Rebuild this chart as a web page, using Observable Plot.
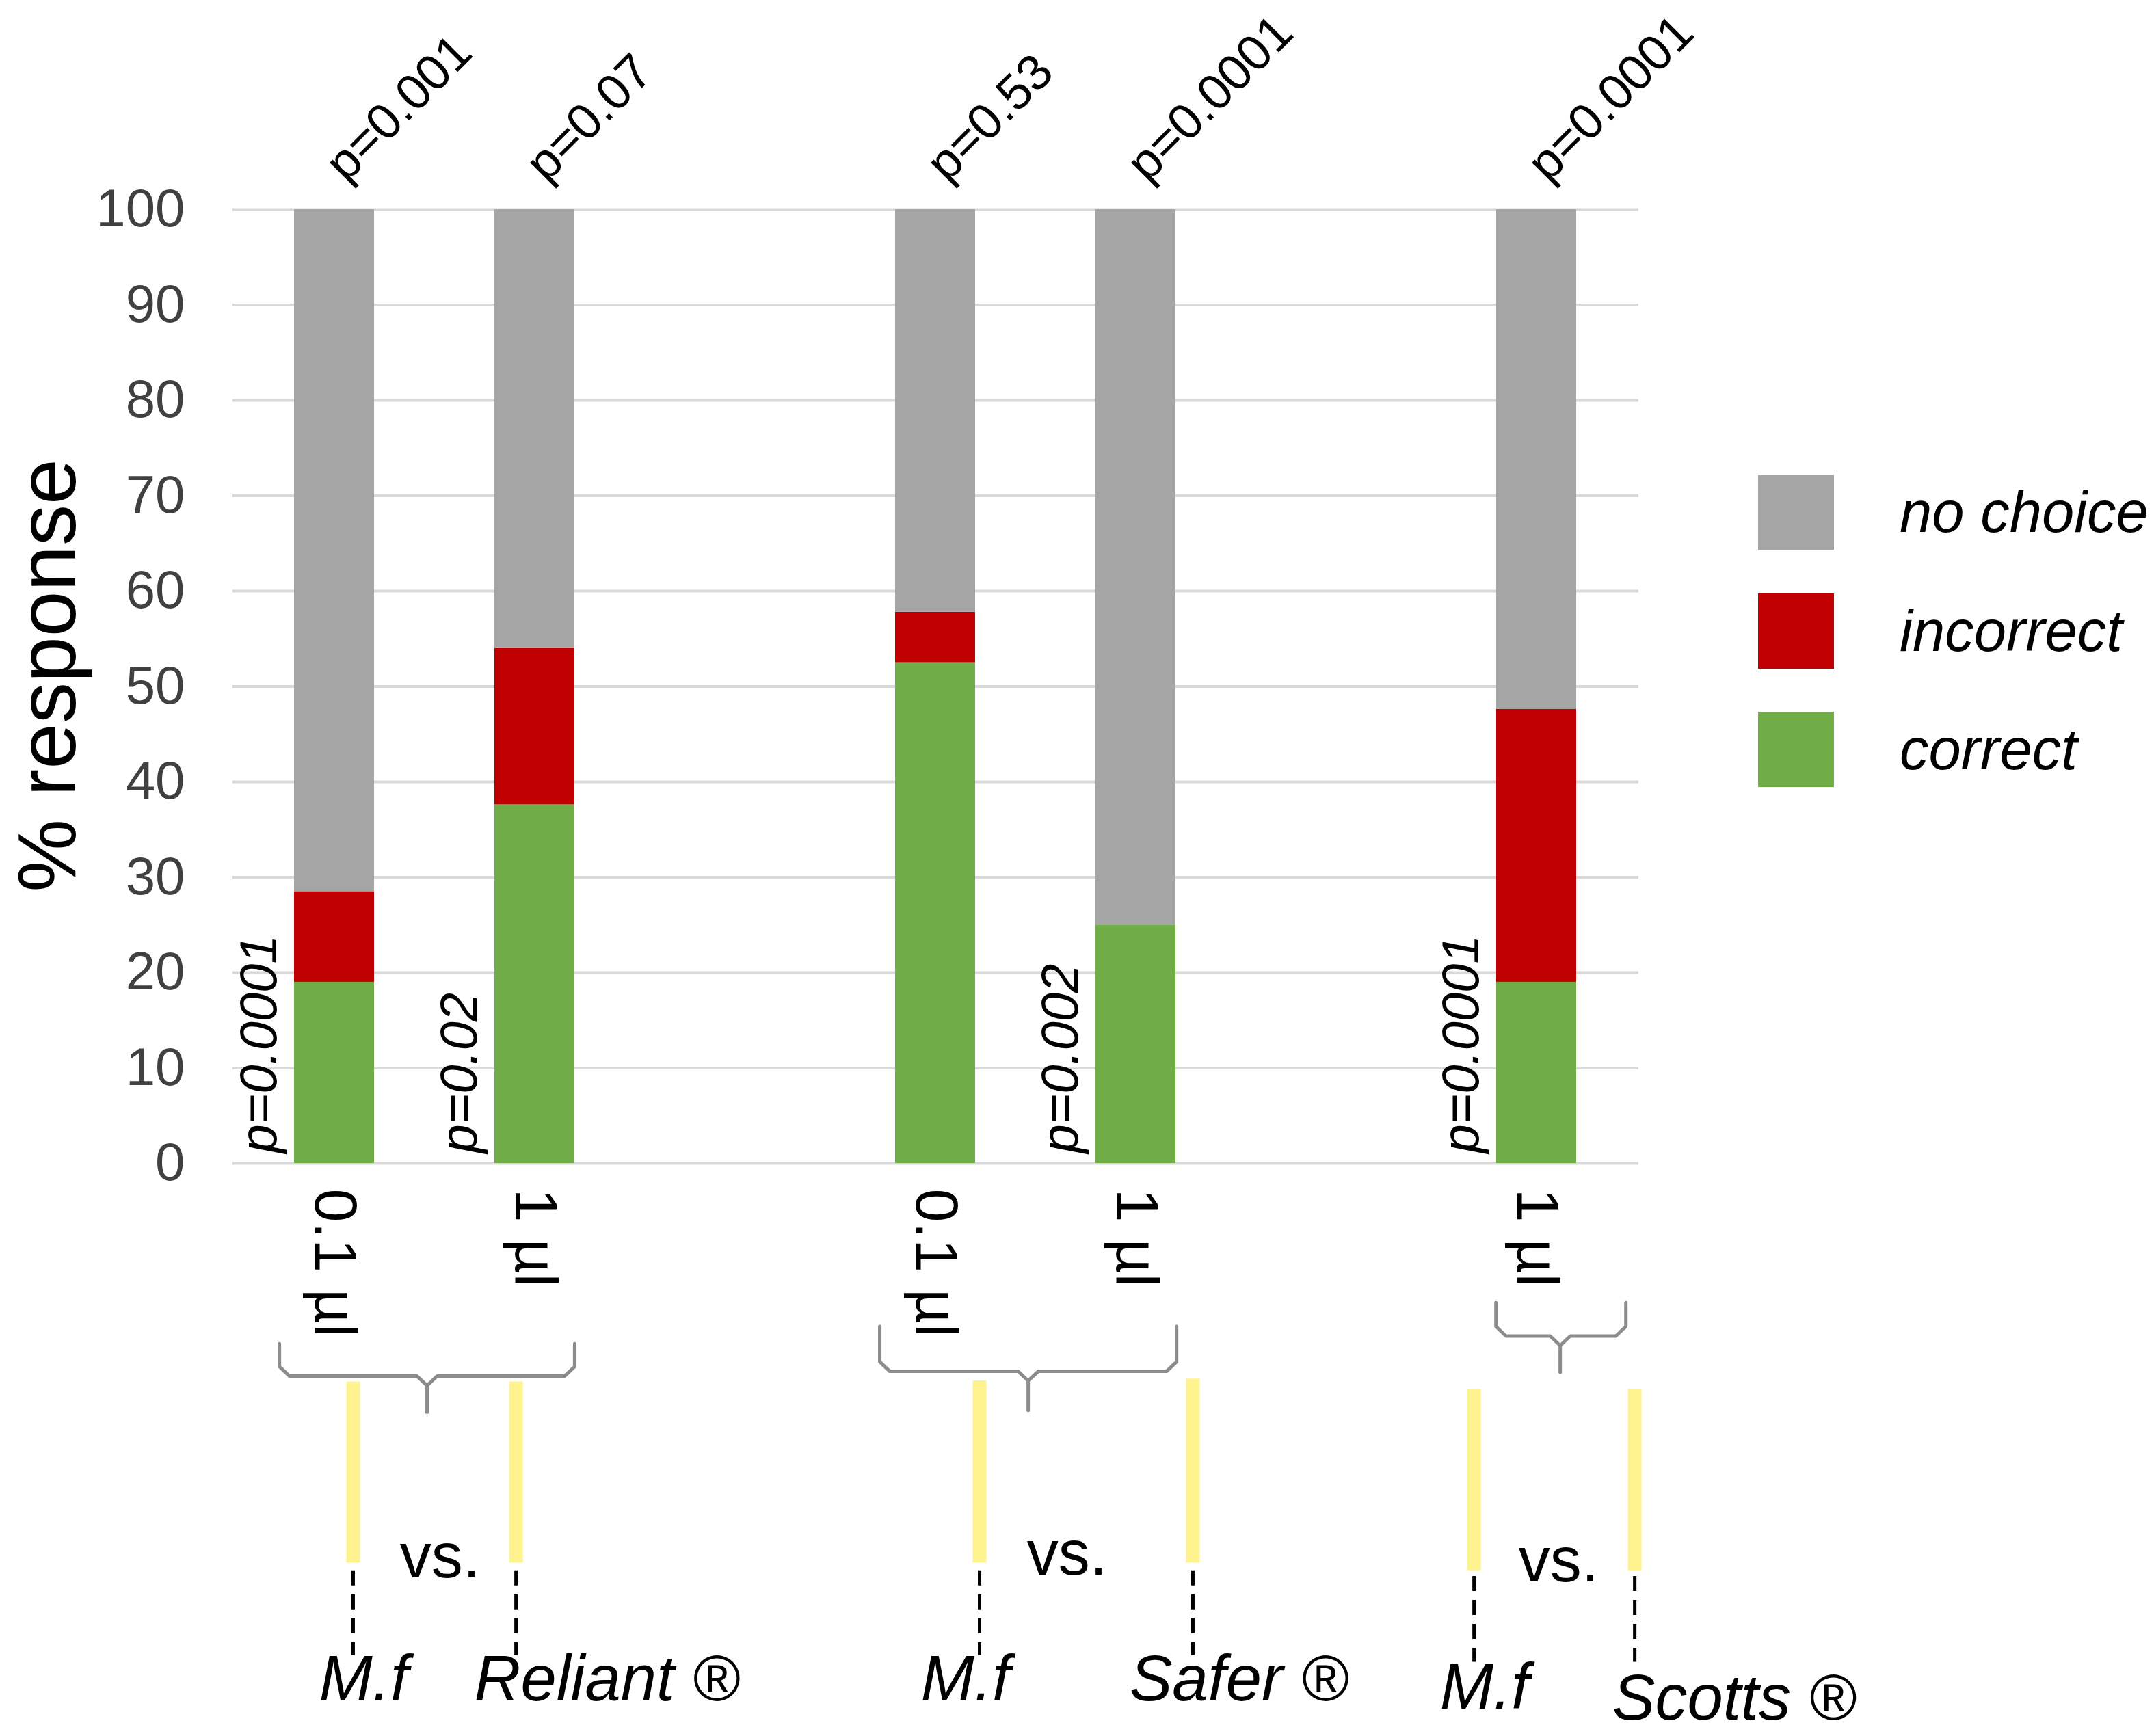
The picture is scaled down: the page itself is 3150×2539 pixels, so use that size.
<!DOCTYPE html>
<html>
<head>
<meta charset="utf-8">
<script src="https://cdn.jsdelivr.net/npm/d3@7"></script>
<script src="https://cdn.jsdelivr.net/npm/@observablehq/plot@0.6"></script>
<style>
  html, body { margin: 0; padding: 0; background: #ffffff; }
  #wrap { position: relative; width: 3150px; height: 2539px; overflow: hidden; background: #ffffff;
          font-family: "Liberation Sans", Arial, sans-serif; }
  #wrap > svg { position: absolute; left: 0; top: 0; }
  .lg-item { position: absolute; display: flex; align-items: center; height: 110px; }
  .lg-swatch { width: 111px; height: 110px; flex: none; }
  .lg-label { margin-left: 96px; font-size: 85px; font-style: italic; color: #000; line-height: 110px; white-space: nowrap; }
</style>
</head>
<body>
<div id="wrap"></div>
<script>
// ---------------- data ----------------
const slots = ["Reliant 0.1 µl", "Reliant 1 µl", "gap A", "Safer 0.1 µl", "Safer 1 µl", "gap B", "Scotts 1 µl"];
const slotLabels = ["0.1 µl", "1 µl", "", "0.1 µl", "1 µl", "", "1 µl"];
const barSlots = ["Reliant 0.1 µl", "Reliant 1 µl", "Safer 0.1 µl", "Safer 1 µl", "Scotts 1 µl"];
const correct   = [19.0, 37.6, 52.5, 25.0, 19.0];
const incorrect = [9.5, 16.4, 5.3, 0, 28.6];
const noChoice  = [71.5, 46.0, 42.2, 75.0, 52.4];
const responses = ["correct", "incorrect", "no choice"];
const responseColors = ["#70AD47", "#C00000", "#A5A5A5"];
const legendOrder = ["no choice", "incorrect", "correct"];
const pTop = ["p=0.001", "p=0.07", "p=0.53", "p=0.0001", "p=0.0001"];
const pCorrect = ["p=0.0001", "p=0.02", "", "p=0.002", "p=0.0001"];
const yTicks = [0, 10, 20, 30, 40, 50, 60, 70, 80, 90, 100];
const yTitle = "% response";
const products = ["M.f", "Reliant ®", "M.f", "Safer ®", "M.f", "Scotts ®"];
const vsLabel = "vs.";

// ------------- layout of the hand-drawn comparison diagram (slot units / % units) -------------
const bracketLayout = [
  {left: 0.232, right: 1.702, mid: 0.967, top: -18.9, bar: -22.3, tip: -26.1},
  {left: 3.221, right: 4.699, mid: 3.960, top: -17.1, bar: -21.8, tip: -25.9},
  {left: 6.289, right: 6.936, mid: 6.609, top: -14.6, bar: -18.1, tip: -21.9}
];
const markerX      = [0.599, 1.410, 3.718, 4.780, 6.180, 6.980];
const markerTop    = [-22.9, -22.9, -22.8, -22.6, -23.7, -23.7];
const markerBottom = [-41.9, -41.9, -41.9, -41.9, -42.7, -42.7];
const dashTop      = [-42.7, -42.7, -42.7, -42.7, -43.3, -43.3];
const dashBottom   = [-51.6, -51.6, -51.6, -51.6, -52.3, -52.3];
const nameX        = [0.429, 1.202, 3.425, 4.464, 6.010, 6.868];
const nameY        = [-56.3, -56.3, -56.3, -56.3, -57.2, -58.3];
const vsX          = [1.032, 4.154, 6.602];
const vsY          = [-43.4, -43.1, -43.8];

// ---------------- build tables ----------------
const rows = [];
barSlots.forEach((s, i) => {
  rows.push({slot: s, response: "correct", value: correct[i]});
  rows.push({slot: s, response: "incorrect", value: incorrect[i]});
  rows.push({slot: s, response: "no choice", value: noChoice[i]});
});
const pRows = barSlots.map((s, i) => ({slot: s, top: pTop[i], low: pCorrect[i]}));

const bracketPts = [];
bracketLayout.forEach((b, g) => {
  const cx = 0.05, cy = 1.0;
  [[b.left, b.top], [b.left, b.bar + cy], [b.left + cx, b.bar], [b.mid - cx, b.bar], [b.mid, b.bar - cy],
   [b.mid, b.tip], [b.mid, b.bar - cy], [b.mid + cx, b.bar], [b.right - cx, b.bar], [b.right, b.bar + cy],
   [b.right, b.top]].forEach(([x, y]) => bracketPts.push({g, x, y}));
});
const markers = markerX.map((x, i) => ({x, top: markerTop[i], bottom: markerBottom[i], dTop: dashTop[i], dBottom: dashBottom[i]}));
const names = products.map((t, i) => ({t, x: nameX[i], y: nameY[i]}));
const vsRows = vsX.map((x, i) => ({x, y: vsY[i]}));

// ---------------- plots ----------------
const W = 3150, H = 2539;
const M = {marginTop: 306, marginRight: 754, marginBottom: 838, marginLeft: 340};
const font = '"Liberation Sans", Arial, sans-serif';

const main = Plot.plot({
  width: W, height: H, ...M,
  style: {fontFamily: font, background: "transparent", overflow: "visible"},
  x: {type: "band", domain: slots, paddingInner: 0.6, paddingOuter: 0.3, align: 0.5},
  y: {domain: [0, 100]},
  color: {domain: responses, range: responseColors},
  marks: [
    Plot.gridY(yTicks, {stroke: "#D9D9D9", strokeOpacity: 1, strokeWidth: 4}),
    Plot.barY(rows.filter(d => d.value > 0), {x: "slot", y: "value", fill: "response", order: responses}),
    Plot.axisY(yTicks, {tickSize: 0, tickPadding: 70, fontSize: 78, fill: "#404040", label: null}),
    Plot.axisX(slots, {tickSize: 0, tickPadding: 37, tickRotate: 90, textAnchor: "start", lineAnchor: "middle",
      fontSize: 88, fill: "#000", label: null, tickFormat: d => slotLabels[slots.indexOf(d)]}),
    Plot.text(pRows, {x: "slot", y: () => 100, text: "top", rotate: -45, textAnchor: "start", lineAnchor: "bottom",
      dx: 17, dy: -38, fontSize: 73, fill: "#000"}),
    Plot.text(pRows.filter(d => d.low), {x: "slot", y: () => 0, text: "low", rotate: -90, textAnchor: "start",
      lineAnchor: "bottom", dx: -85, dy: -15, fontSize: 76, fontStyle: "italic", fill: "#000"}),
    Plot.text([yTitle], {frameAnchor: "left", rotate: -90, textAnchor: "middle", lineAnchor: "bottom",
      dx: -231, dy: -16, fontSize: 120, fill: "#000"})
  ]
});

const overlay = Plot.plot({
  width: W, height: H, ...M,
  style: {fontFamily: font, background: "transparent", overflow: "visible"},
  x: {domain: [0, slots.length], axis: null},
  y: {domain: [0, 100], axis: null},
  marks: [
    Plot.line(bracketPts, {x: "x", y: "y", z: "g", stroke: "#8C8C8C", strokeWidth: 5,
      strokeLinejoin: "round", strokeLinecap: "round"}),
    Plot.ruleX(markers, {x: "x", y1: "top", y2: "bottom", stroke: "#FFF38F", strokeWidth: 20}),
    Plot.ruleX(markers, {x: "x", y1: "dTop", y2: "dBottom", stroke: "#000", strokeWidth: 5, strokeDasharray: "22,13"}),
    Plot.text(vsRows, {x: "x", y: "y", text: () => vsLabel, textAnchor: "middle", lineAnchor: "bottom",
      fontSize: 92, fill: "#000"}),
    Plot.text(names, {x: "x", y: "y", text: "t", textAnchor: "start", lineAnchor: "bottom",
      fontSize: 94, fontStyle: "italic", fill: "#000"})
  ]
});

const wrap = document.getElementById("wrap");
wrap.appendChild(main);
wrap.appendChild(overlay);

// ---------------- legend ----------------
legendOrder.forEach((r, i) => {
  const item = document.createElement("div");
  item.className = "lg-item";
  item.style.left = "2571px";
  item.style.top = (694 + i * 173.5) + "px";
  const sw = document.createElement("div");
  sw.className = "lg-swatch";
  sw.style.background = responseColors[responses.indexOf(r)];
  const lb = document.createElement("span");
  lb.className = "lg-label";
  lb.textContent = r;
  item.appendChild(sw);
  item.appendChild(lb);
  wrap.appendChild(item);
});
</script>
</body>
</html>
